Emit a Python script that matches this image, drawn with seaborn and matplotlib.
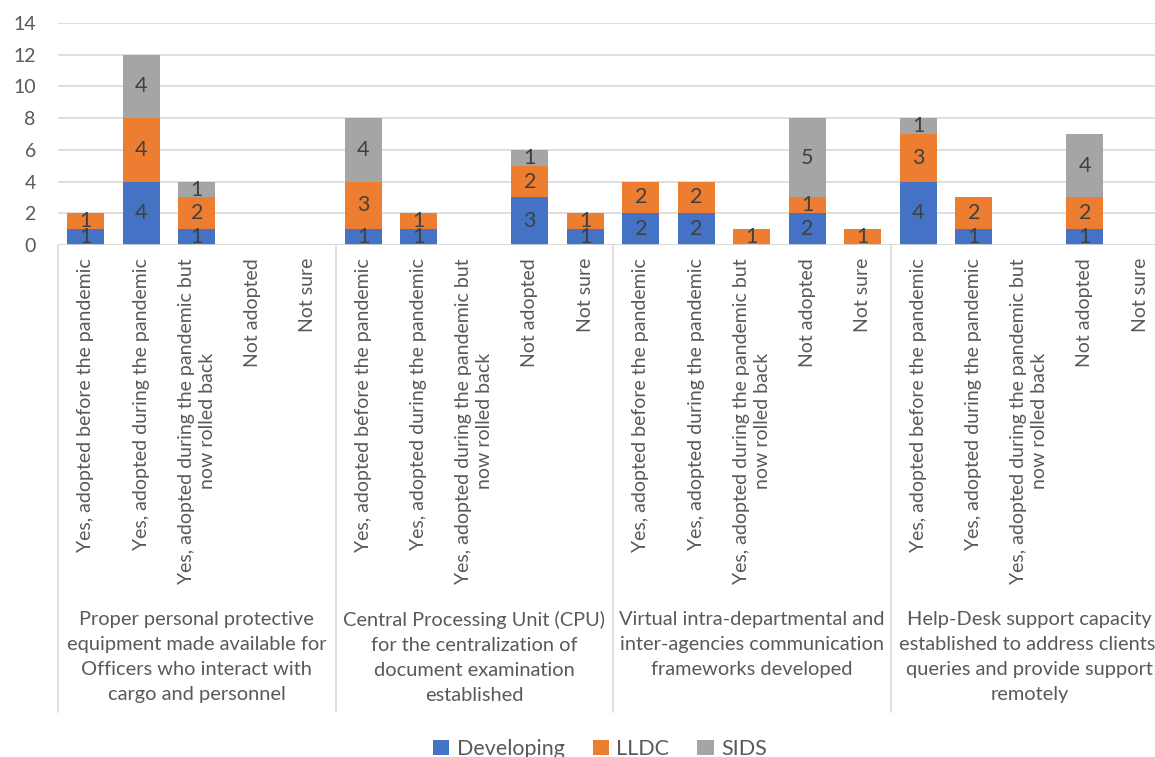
import numpy as np
import pandas as pd
import matplotlib
matplotlib.use("Agg")
import matplotlib.pyplot as plt
from matplotlib.lines import Line2D
from matplotlib.patches import Patch
import seaborn as sns

# ---------------- data ----------------
groups = [
    "Proper personal protective\nequipment made available for\nOfficers who interact with\ncargo and personnel",
    "Central Processing Unit (CPU)\nfor the centralization of\ndocument examination\nestablished",
    "Virtual intra-departmental and\ninter-agencies communication\nframeworks developed",
    "Help-Desk support capacity\nestablished to address clients'\nqueries and provide support\nremotely",
]
answers = [
    "Yes, adopted before the pandemic",
    "Yes, adopted during the pandemic",
    "Yes, adopted during the pandemic but\nnow rolled back",
    "Not adopted",
    "Not sure",
]
series = ["Developing", "LLDC", "SIDS"]
developing = [1, 4, 1, 0, 0,   1, 1, 0, 3, 1,   2, 2, 0, 2, 0,   4, 1, 0, 1, 0]
lldc       = [1, 4, 2, 0, 0,   3, 1, 0, 2, 1,   2, 2, 1, 1, 1,   3, 2, 0, 2, 0]
sids       = [0, 4, 1, 0, 0,   4, 0, 0, 1, 0,   0, 0, 0, 5, 0,   1, 0, 0, 4, 0]
yticks = [0, 2, 4, 6, 8, 10, 12, 14]

colors = {"Developing": "#4472C4", "LLDC": "#ED7D31", "SIDS": "#A5A5A5"}
grid_c = "#D9D9D9"
txt_c = "#595959"
lab_c = "#404040"

sns.set_style("white")
plt.rcParams["font.family"] = ["Lato", "DejaVu Sans"]

slots = [f"g{g}_a{a}" for g in range(len(groups)) for a in range(len(answers))]
df = pd.DataFrame({
    "slot": slots,
    "Developing": developing,
    "LLDC": lldc,
    "SIDS": sids,
})
df["c1"] = df["Developing"]
df["c2"] = df["Developing"] + df["LLDC"]
df["c3"] = df["c2"] + df["SIDS"]

W, H = 1155, 757
fig = plt.figure(figsize=(W / 100, H / 100), dpi=100)
left, right, top, bottom = 58, 1168, 23, 245
ax = fig.add_axes([left / W, 1 - bottom / H, (right - left) / W, (bottom - top) / H])

for col, name in [("c3", "SIDS"), ("c2", "LLDC"), ("c1", "Developing")]:
    sns.barplot(data=df, x="slot", y=col, order=slots, color=colors[name],
                width=0.67, linewidth=0, errorbar=None, saturation=1, ax=ax)

ax.set_ylim(0, 14)
ax.set_xlim(-0.5, len(slots) - 0.5)
ax.set_yticks(yticks)
ax.set_yticklabels([str(v) for v in yticks])
ax.set_xticks([])
ax.set_xlabel("")
ax.set_ylabel("")
ax.yaxis.grid(True, color=grid_c, linewidth=1.2)
ax.set_axisbelow(True)
for s in ax.spines.values():
    s.set_visible(False)
ax.tick_params(axis="y", length=0, pad=16, labelsize=14, labelcolor=txt_c)

# data labels
for i in range(len(slots)):
    base = 0
    for name, vals in [("Developing", developing), ("LLDC", lldc), ("SIDS", sids)]:
        v = vals[i]
        if v > 0:
            ax.text(i, base + v / 2, str(v), ha="center", va="center",
                    fontsize=15.5, color=lab_c)
        base += v

# axis line & separators
trans = ax.get_xaxis_transform()
ax_h = bottom - top
def yfrac(py):
    return (bottom - py) / ax_h

ax.axhline(0, color=grid_c, linewidth=1.2, zorder=3)
for g in range(len(groups)):
    x = g * len(answers) - 0.5
    ax.add_line(Line2D([x, x], [0, yfrac(712)], transform=trans, color=grid_c,
                       linewidth=1.2, clip_on=False))

# category labels
for i, s in enumerate(slots):
    a = i % len(answers)
    ax.text(i, yfrac(258), answers[a], transform=trans, rotation=90,
            ha="center", va="top", multialignment="center",
            fontsize=14, color=txt_c, linespacing=1.3)

# group labels
for g, gl in enumerate(groups):
    xc = g * len(answers) + (len(answers) - 1) / 2
    ax.text(xc, yfrac(611), gl, transform=trans, ha="center", va="top",
            multialignment="center", fontsize=14.4, color=txt_c, linespacing=1.57)

handles = [Patch(facecolor=colors[n], edgecolor="none", label=n) for n in series]
fig.legend(handles=handles, loc="center", bbox_to_anchor=(600 / W, 1 - 749 / H),
           ncol=3, frameon=False, fontsize=15.5, handlelength=0.75, handleheight=0.75,
           handletextpad=0.35, columnspacing=1.3, labelcolor=txt_c)

fig.savefig("out.png", dpi=100)
